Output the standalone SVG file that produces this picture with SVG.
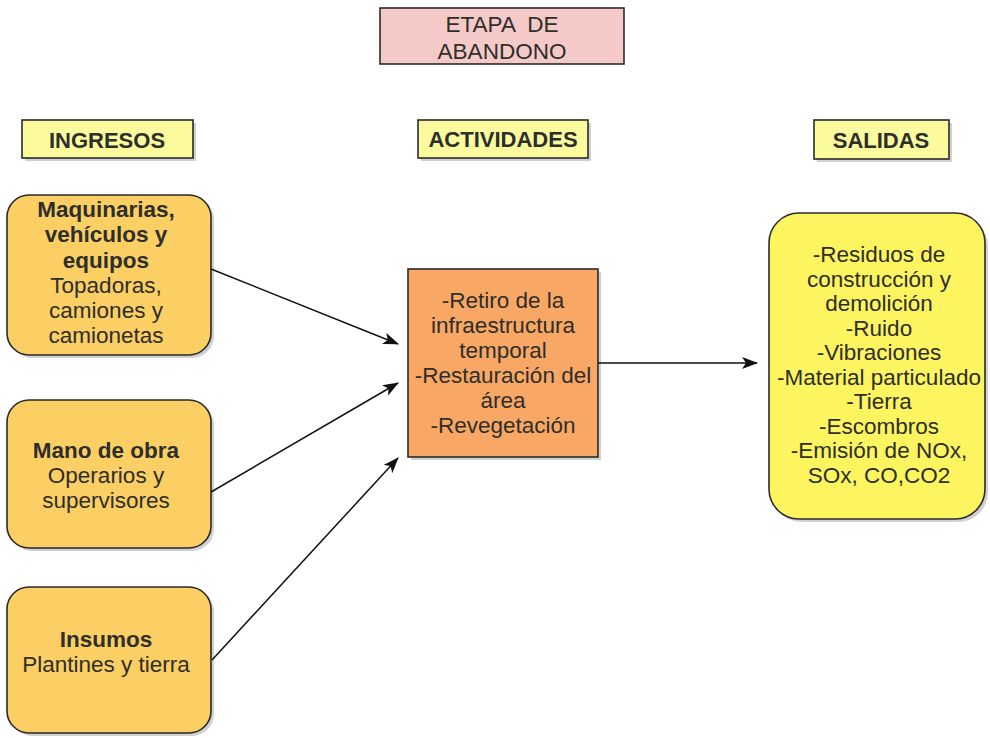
<svg xmlns="http://www.w3.org/2000/svg" width="990" height="738" viewBox="0 0 990 738">
<style>
  text { font-family: "Liberation Sans", Arial, sans-serif; fill: #2e2e2a; text-anchor: middle; }
  .hdr { font-size: 22px; font-weight: bold; }
  .t { font-size: 22.5px; }
  .b { font-weight: bold; }
  .box { stroke: #2a2a2a; stroke-width: 1.6; }
  .shadow { fill: #9a9a9a; opacity: 0.45; }
  .hbox { fill: #fbfb9e; }
  .inbox { fill: #fbcf63; }
  .actbox { fill: #f8a864; }
  .outbox { fill: #fdf560; }
  .edge { stroke: #111; stroke-width: 1.5; fill: none; marker-end: url(#arr); }
</style>
<defs>
  <marker id="arr" viewBox="0 0 16 12" refX="15" refY="6" markerWidth="16" markerHeight="12" markerUnits="userSpaceOnUse" orient="auto">
    <path d="M0,0 L16,6 L0,12 L4,6 Z" fill="#111"/>
  </marker>
</defs>
<rect width="990" height="738" fill="#ffffff"/>

<g id="title">
  <rect x="380" y="8" width="244" height="56" fill="#f6c9c9" class="box"/>
  <text x="502" y="32" class="t" xml:space="preserve">ETAPA  DE</text>
  <text x="502" y="59" class="t">ABANDONO</text>
</g>

<g id="hdr-ingresos">
  <rect x="25" y="123" width="171" height="38" class="shadow"/>
  <rect x="22" y="120" width="171" height="38" class="hbox box"/>
  <text x="107" y="148" class="hdr">INGRESOS</text>
</g>
<g id="hdr-actividades">
  <rect x="421" y="123" width="170" height="38" class="shadow"/>
  <rect x="418" y="120" width="170" height="38" class="hbox box"/>
  <text x="503" y="147" class="hdr">ACTIVIDADES</text>
</g>
<g id="hdr-salidas">
  <rect x="817" y="123" width="135" height="39" class="shadow"/>
  <rect x="814" y="120" width="135" height="39" class="hbox box"/>
  <text x="881" y="148" class="hdr">SALIDAS</text>
</g>

<g id="in-maquinarias">
  <rect x="10" y="198" width="204" height="160" rx="22" class="shadow"/>
  <rect x="7" y="195" width="204" height="160" rx="22" class="inbox box"/>
  <text x="106" y="217" class="t b">Maquinarias,</text>
  <text x="106" y="242" class="t b">vehículos y</text>
  <text x="106" y="268" class="t b">equipos</text>
  <text x="106" y="293" class="t">Topadoras,</text>
  <text x="106" y="318" class="t">camiones y</text>
  <text x="106" y="343" class="t">camionetas</text>
</g>

<g id="in-mano">
  <rect x="10" y="403" width="204" height="148" rx="22" class="shadow"/>
  <rect x="7" y="400" width="204" height="148" rx="22" class="inbox box"/>
  <text x="106" y="458" class="t b">Mano de obra</text>
  <text x="106" y="483" class="t">Operarios y</text>
  <text x="106" y="508" class="t">supervisores</text>
</g>

<g id="in-insumos">
  <rect x="10" y="590" width="204" height="146" rx="22" class="shadow"/>
  <rect x="7" y="587" width="204" height="146" rx="22" class="inbox box"/>
  <text x="106" y="647" class="t b">Insumos</text>
  <text x="106" y="672" class="t">Plantines y tierra</text>
</g>

<g id="actividades">
  <rect x="411" y="272" width="190" height="188" class="shadow"/>
  <rect x="408" y="269" width="190" height="188" class="actbox box"/>
  <text x="503" y="308" class="t">-Retiro de la</text>
  <text x="503" y="333" class="t">infraestructura</text>
  <text x="503" y="358" class="t">temporal</text>
  <text x="503" y="383" class="t">-Restauración del</text>
  <text x="503" y="408" class="t">área</text>
  <text x="503" y="433" class="t">-Revegetación</text>
</g>

<g id="salidas">
  <rect x="772" y="216" width="216" height="306" rx="30" class="shadow"/>
  <rect x="769" y="213" width="216" height="306" rx="30" class="outbox box"/>
  <text x="879" y="262" class="t">-Residuos de</text>
  <text x="879" y="286.5" class="t">construcción y</text>
  <text x="879" y="311" class="t">demolición</text>
  <text x="879" y="335.5" class="t">-Ruido</text>
  <text x="879" y="360" class="t">-Vibraciones</text>
  <text x="879" y="384.5" class="t">-Material particulado</text>
  <text x="879" y="409" class="t">-Tierra</text>
  <text x="879" y="433.5" class="t">-Escombros</text>
  <text x="879" y="458" class="t">-Emisión de NOx,</text>
  <text x="879" y="482.5" class="t">SOx, CO,CO2</text>
</g>

<g id="connectors">
  <line x1="211" y1="269" x2="398" y2="344" class="edge"/>
  <line x1="211" y1="492" x2="398" y2="383" class="edge"/>
  <line x1="212" y1="660" x2="398" y2="458" class="edge"/>
  <line x1="598" y1="363" x2="757" y2="363" class="edge"/>
</g>
</svg>
